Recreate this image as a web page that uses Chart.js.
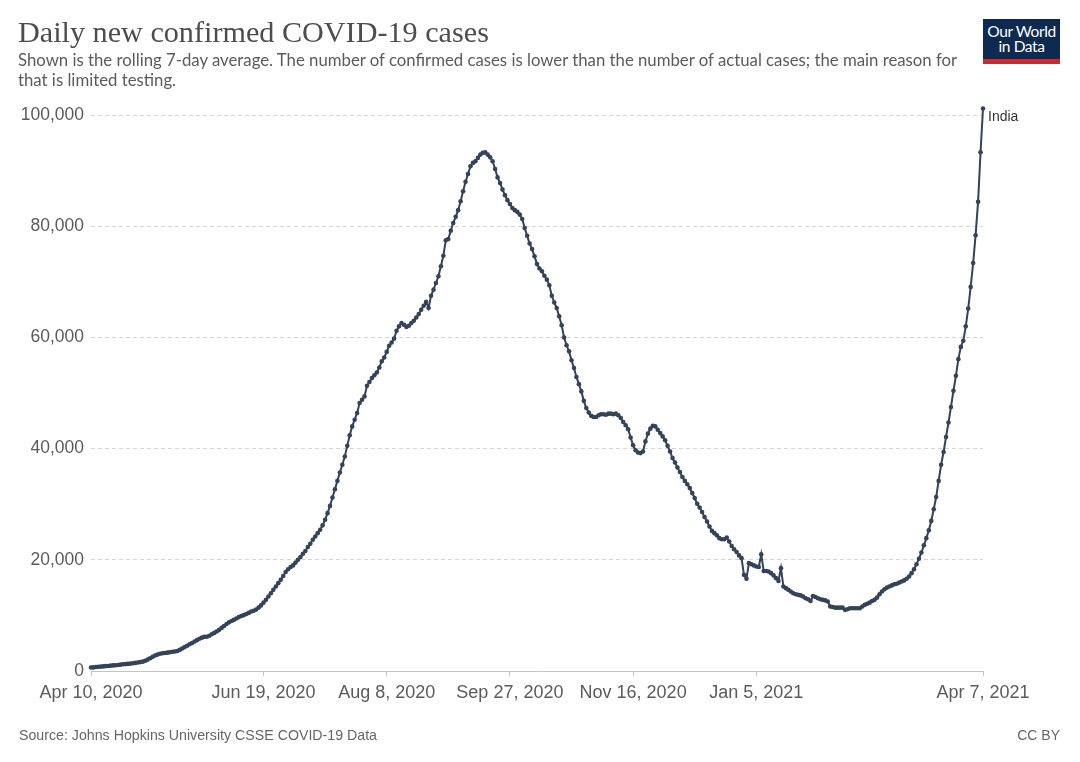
<!DOCTYPE html>
<html>
<head>
<meta charset="utf-8">
<script src="https://cdn.jsdelivr.net/npm/chart.js@4.4.1/dist/chart.umd.min.js"></script>
<style>
  body { margin: 0; background: #fff; }
  #wrap { position: relative; width: 1080px; height: 762px; overflow: hidden; font-family: 'Liberation Sans', Arial, sans-serif; }
  #chart { position: absolute; left: 0; top: 0; }
  .txt { position: absolute; white-space: nowrap; line-height: 1; }
  #title { left: 18px; top: 17px; font-family: 'Liberation Serif', serif; font-size: 30px; color: #4d4d4d; }
  #sub1, #sub2 { left: 18px; font-family: Lato, sans-serif; font-size: 15.5px; color: #5b5b5b; }
  #sub1 { top: 52px; }
  #sub2 { top: 72px; }
  #source { left: 19px; top: 728px; font-size: 14px; color: #666; }
  #license { right: 20px; top: 728px; font-size: 14px; color: #666; }
  #logo { position: absolute; left: 983px; top: 19px; width: 77px; height: 45px; background: #0e2a50; color: #fff;
          font-family: Lato, sans-serif; font-size: 15.5px; line-height: 1; text-align: center; }
  #logo .l1, #logo .l2 { position: absolute; left: 0; width: 100%; letter-spacing: -0.4px; }
  #logo .l1 { top: 5px; }
  #logo .l2 { top: 20px; }
  #logo .bar { position: absolute; left: 0; bottom: 0; width: 100%; height: 5px; background: #cc2a2a; }
</style>
</head>
<body>
<div id="wrap">
  <canvas id="chart" width="1080" height="762"></canvas>
  <div class="txt" id="title">Daily new confirmed COVID-19 cases</div>
  <div class="txt" id="sub1">Shown is the rolling 7-day average. The number of confirmed cases is lower than the number of actual cases; the main reason for</div>
  <div class="txt" id="sub2">that is limited testing.</div>
  <div id="logo"><div class="l1">Our World</div><div class="l2">in Data</div><div class="bar"></div></div>
  <div class="txt" id="source">Source: Johns Hopkins University CSSE COVID-19 Data</div>
  <div class="txt" id="license">CC BY</div>
</div>
<script>
// rolling 7-day average of daily confirmed cases, India, one value per day from Apr 10, 2020
const apr2020 = [620, 650, 710, 760, 790, 830, 880, 900, 960, 1010, 1040, 1090, 1140, 1210, 1240, 1280, 1330, 1400, 1460, 1530, 1600];
const may2020 = [1680, 1850, 2050, 2300, 2550, 2800, 2950, 3100, 3200, 3250, 3300, 3380, 3450, 3500, 3600, 3800, 4050, 4300, 4550, 4800,
                 5050, 5300, 5550, 5800, 6000, 6150, 6150, 6350, 6600, 6850, 7100];
const jun2020 = [7400, 7750, 8100, 8450, 8750, 9000, 9200, 9450, 9700, 9900, 10050, 10250, 10450, 10700, 10850, 11050, 11400, 11800, 12300, 12800,
                 13400, 14000, 14600, 15200, 15800, 16400, 17100, 17800, 18300, 18700];
const jul2020 = [19000, 19500, 20000, 20500, 21100, 21600, 22300, 22900, 23600, 24200, 24800, 25400, 26200, 27200, 28400, 29700, 31200, 32700, 34200, 35700,
                 37100, 38600, 40500, 42400, 44000, 45200, 46400, 48200, 48800, 49400, 51300];
const aug2020 = [52000, 52700, 53200, 53700, 54600, 55700, 56400, 57400, 58500, 59100, 59800, 61200, 62000, 62600, 62300, 61900, 62100, 62600, 63000, 63600,
                 64200, 65000, 65700, 66400, 65300, 67500, 68600, 69800, 71000, 72800, 74700];
const sep2020 = [77500, 77700, 79200, 80600, 81700, 82900, 84500, 86300, 88000, 89400, 90800, 91400, 91700, 92300, 92900, 93200, 93300, 92900, 92400, 91700,
                 90300, 88800, 87800, 86600, 85600, 84700, 84000, 83300, 82900, 82600];
const oct2020 = [82100, 81300, 79700, 78300, 76900, 75900, 74600, 73200, 72400, 71900, 71100, 70400, 69400, 67500, 66300, 65300, 63800, 62200, 60000, 58600,
                 57500, 55900, 54500, 52900, 51600, 50300, 48600, 47300, 46500, 45900, 45700];
const nov2020 = [45700, 46000, 46200, 46200, 46100, 46300, 46300, 46200, 46300, 46000, 45500, 44800, 44200, 43500, 42000, 40600, 39700, 39300, 39200, 39500,
                 41300, 42700, 43600, 44100, 44000, 43400, 42800, 42200, 41500, 40500];
const dec2020 = [39500, 38300, 37500, 36600, 35800, 34900, 34200, 33600, 32900, 32000, 31100, 30100, 29400, 28600, 27700, 26900, 26000, 25200, 24800, 24400,
                 23900, 23700, 23700, 24000, 23300, 22500, 21900, 21400, 20800, 20300, 17300];
const jan2021 = [16600, 19400, 19200, 19000, 18800, 18700, 21000, 18000, 18000, 17900, 17600, 17200, 16700, 16200, 18500, 15200, 14900, 14600, 14300, 14000,
                 13800, 13700, 13600, 13400, 13100, 12900, 12600, 13500, 13300, 13100, 12900];
const feb2021 = [12800, 12700, 12500, 11600, 11500, 11400, 11400, 11400, 11400, 11000, 11100, 11300, 11300, 11300, 11300, 11300, 11600, 11900, 12100, 12300,
                 12600, 12800, 13200, 13800, 14300, 14700, 15000, 15200];
const mar2021 = [15400, 15600, 15700, 15900, 16100, 16300, 16600, 17000, 17600, 18300, 19200, 20200, 21300, 22600, 23900, 25300, 27000, 29100, 31300, 34200,
                 37100, 39400, 42100, 44700, 47500, 50400, 53100, 56100, 58300, 59400, 62000];
const apr2021 = [65200, 69100, 73400, 78400, 84400, 93300, 101200];

const country = 'India';
const tickDays = [0, 70, 120, 170, 220, 270, 362];
const tickLabels = ['Apr 10, 2020', 'Jun 19, 2020', 'Aug 8, 2020', 'Sep 27, 2020', 'Nov 16, 2020', 'Jan 5, 2021', 'Apr 7, 2021'];
const yTicks = [0, 20000, 40000, 60000, 80000, 100000];

const cases = [].concat(apr2020, may2020, jun2020, jul2020, aug2020, sep2020, oct2020, nov2020,
                        dec2020, jan2021, feb2021, mar2021, apr2021);

// squeeze/stretch a text line to the width it has in the reference
function fitWidth(id, target) {
    const el = document.getElementById(id);
    const size = parseFloat(getComputedStyle(el).fontSize);
    const w = el.getBoundingClientRect().width;
    el.style.fontSize = (size * target / w).toFixed(2) + 'px';
    return size * target / w;
}
fitWidth('title', 471);
const subSize = fitWidth('sub1', 940);
document.getElementById('sub2').style.fontSize = subSize.toFixed(2) + 'px';
fitWidth('source', 358);

const lineColor = '#33435a';
const axisText = '#5b5b5b';

// country name next to the last point
const endLabel = {
    id: 'endLabel',
    afterDatasetsDraw(chart) {
        const pts = chart.getDatasetMeta(0).data;
        const last = pts[pts.length - 1];
        const c = chart.ctx;
        c.save();
        c.font = '14px "Liberation Sans"';
        c.fillStyle = '#333';
        c.textBaseline = 'middle';
        c.fillText(chart.data.datasets[0].label, last.x + 5, last.y + 9);
        c.restore();
    }
};

const ctx = document.getElementById('chart').getContext('2d');
new Chart(ctx, {
    type: 'line',
    data: {
        datasets: [{
            label: country,
            data: cases.map((v, i) => ({ x: i, y: v })),
            borderColor: lineColor,
            borderWidth: 2,
            pointRadius: 2.3,
            pointBackgroundColor: lineColor,
            pointBorderWidth: 0,
            tension: 0,
            clip: false
        }]
    },
    options: {
        responsive: false,
        animation: false,
        layout: { padding: { top: 104, right: 97, left: 0, bottom: 0 } },
        plugins: {
            legend: { display: false },
            tooltip: { enabled: false }
        },
        scales: {
            x: {
                type: 'linear',
                min: 0,
                max: 362,
                afterBuildTicks: s => { s.ticks = tickDays.map(v => ({ value: v })); },
                afterFit: s => { s.height = 91; },
                grid: { drawOnChartArea: false, drawTicks: true, tickLength: 5, color: '#c4c4c4' },
                border: { display: true, color: '#c4c4c4' },
                ticks: {
                    autoSkip: false,
                    maxRotation: 0,
                    padding: 6,
                    color: axisText,
                    font: { family: 'Liberation Sans', size: 18 },
                    callback: v => tickLabels[tickDays.indexOf(v)]
                }
            },
            y: {
                min: 0,
                max: 102000,
                afterBuildTicks: s => { s.ticks = yTicks.map(v => ({ value: v })); },
                afterFit: s => { s.width = 91; },
                grid: {
                    drawTicks: false,
                    color: c => (c.tick && c.tick.value === 0) ? 'rgba(0,0,0,0)' : '#d4d4d4'
                },
                border: { display: false, dash: [4, 3] },
                ticks: {
                    padding: 7,
                    color: axisText,
                    font: { family: 'Liberation Sans', size: 17.5 },
                    callback: v => v.toLocaleString('en-US')
                }
            }
        }
    },
    plugins: [endLabel]
});
</script>
</body>
</html>
